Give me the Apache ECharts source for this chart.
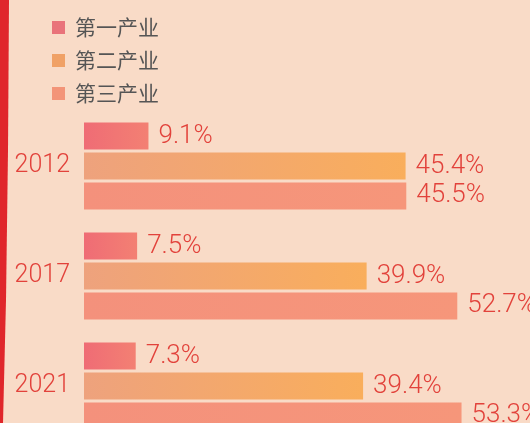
<!DOCTYPE html>
<html>
<head>
<meta charset="utf-8">
<script src="https://cdn.jsdelivr.net/npm/echarts@6/dist/echarts.min.js"></script>
<style>
  html, body { margin: 0; padding: 0; background: #f9dbc7; }
  #bar { width: 530px; height: 423px; }
</style>
</head>
<body>
<div id="bar"></div>
<script>
  // 三大产业占比
  var years = ['2012', '2017', '2021'];
  var names = ['第一产业', '第二产业', '第三产业'];
  var first = [9.1, 7.5, 7.3];
  var second = [45.4, 39.9, 39.4];
  var third = [45.5, 52.7, 53.3];

  var red = '#e2423b';
  var legendColors = ['#e9737a', '#f0a166', '#f39478'];

  function grad(a, b) {
    return new echarts.graphic.LinearGradient(0, 0, 1, 0, [
      { offset: 0, color: a },
      { offset: 1, color: b }
    ]);
  }

  function makeSeries(name, values, color) {
    return {
      name: name,
      type: 'bar',
      data: values,
      barWidth: 27,
      barGap: '11%',
      itemStyle: { color: color },
      label: {
        show: true,
        position: 'right',
        distance: 10,
        formatter: '{c}%',
        color: red,
        fontSize: 26,
        fontFamily: 'Roboto',
        fontWeight: 300
      }
    };
  }

  var barChart = echarts.init(document.getElementById('bar'));
  barChart.setOption({
    backgroundColor: '#f9dbc7',
    animation: false,
    legend: {
      orient: 'vertical',
      left: 47,
      top: 12,
      itemWidth: 13,
      itemHeight: 13,
      itemGap: 12,
      icon: 'rect',
      textStyle: {
        color: '#555',
        fontSize: 21,
        fontFamily: 'Noto Sans CJK SC',
        padding: [0, 0, 0, 5]
      },
      data: names.map(function (n, i) {
        return { name: n, itemStyle: { color: legendColors[i] } };
      })
    },
    grid: { left: 84, top: 111, width: 425, height: 330, outerBoundsMode: 'none', containLabel: false },
    xAxis: {
      type: 'value',
      min: 0,
      max: 60,
      show: false
    },
    yAxis: {
      type: 'category',
      inverse: true,
      data: years,
      axisLine: { show: false },
      axisTick: { show: false },
      axisLabel: {
        color: red,
        fontSize: 25,
        fontFamily: 'Roboto',
        fontWeight: 300,
        margin: 14
      }
    },
    graphic: [{
      type: 'polygon',
      shape: { points: [[0, 0], [9, 0], [8, 150], [6, 300], [3, 423], [0, 423]] },
      style: { fill: '#e0262b' },
      silent: true
    }],
    series: [
      makeSeries(names[0], first, grad('#ef6c75', '#f38073')),
      makeSeries(names[1], second, grad('#eea27d', '#f9ae5c')),
      makeSeries(names[2], third, grad('#f4917c', '#f6967a'))
    ]
  });
</script>
</body>
</html>
